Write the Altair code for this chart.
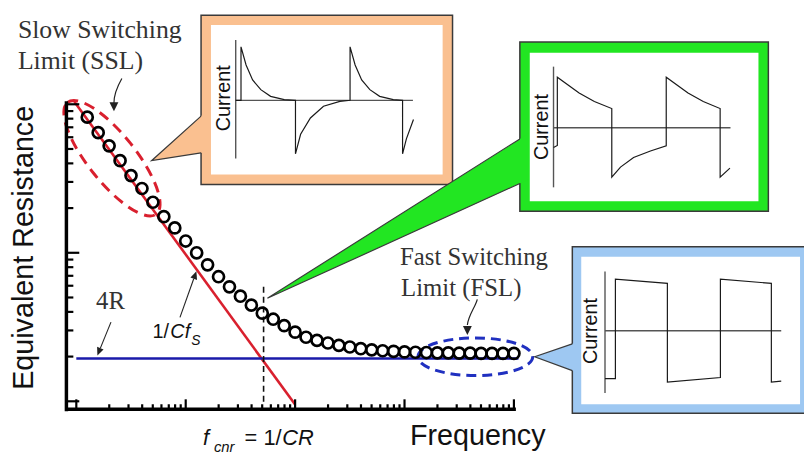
import altair as alt
import pandas as pd

SANS = "Liberation Sans"
SERIF = "Liberation Serif"

# ---------------- main plot data ----------------
freq = [1.259, 1.585, 1.995, 2.512, 3.162, 3.981, 5.012, 6.31, 7.943, 10.0,
        12.59, 15.85, 19.95, 25.12, 31.62, 39.81, 50.12, 63.1, 79.43, 100.0,
        125.9, 158.5, 199.5, 251.2, 316.2, 398.1, 501.2, 631.0, 794.3, 1000.0,
        1259.0, 1585.0, 1995.0, 2512.0, 3162.0, 3981.0, 5012.0, 6310.0, 7943.0, 10000.0]
r_eq = [81.9, 64.4, 52.5, 41.7, 33.1, 27.1, 21.9, 17.5, 14.7, 12.0,
        10.0, 8.3, 6.9, 5.9, 5.1, 4.44, 3.92, 3.57, 3.23, 2.92,
        2.70, 2.57, 2.47, 2.38, 2.32, 2.26, 2.22, 2.19, 2.17, 2.15,
        2.14, 2.13, 2.12, 2.12, 2.11, 2.11, 2.10, 2.10, 2.10, 2.10]
ssl_f = [0.96, 100.0]          # 1/(C f_S) asymptote
ssl_r = [104.0, 0.95]
fsl_f = [1.0, 11000.0]         # 4R asymptote
fsl_r = [1.94, 1.94]
f_cnr = [51.5]
cnr_r = [5.9]
cnr_r2 = [0.94]
x_major = [1, 10, 100, 1000, 10000]
x_minor = [k * 10 ** d for d in range(4) for k in range(2, 10)]
y_major = [1, 10, 100]
y_minor = [k * 10 ** d for d in range(2) for k in range(2, 10)]

# ---------------- inset waveforms (time in half periods, current normalised) ----------------
ssl_t = [0.0, 0.097, 0.097, 0.19, 0.31, 0.46, 0.64, 0.89, 1.096, 1.096, 1.19, 1.37, 1.61, 1.91, 2.097,
         2.097, 2.19, 2.31, 2.46, 2.64, 2.89, 3.06, 3.06, 3.13, 3.26]
ssl_i = [0.0, 0.0, 1.0, 0.66, 0.38, 0.2, 0.074, 0.013, 0.0, -1.0, -0.635, -0.33, -0.11, -0.02, 0.0,
         1.0, 0.66, 0.38, 0.2, 0.074, 0.013, 0.0, -1.0, -0.72, -0.36]
mid_t = [0.0, 0.07, 0.07, 0.47, 0.75, 1.07, 1.07, 1.23, 1.47, 1.78, 2.07, 2.07, 2.47, 2.75, 3.06, 3.06, 3.24]
mid_i = [-0.39, -0.35, 1.0, 0.69, 0.52, 0.38, -0.98, -0.78, -0.59, -0.46, -0.36, 1.0, 0.69, 0.52, 0.38, -0.98, -0.8]
fsl_t = [0.0, 0.2, 0.2, 1.2, 1.2, 2.22, 2.22, 3.2, 3.2, 3.39]
fsl_i = [-0.93, -0.93, 1.0, 0.92, -1.0, -0.91, 1.0, 0.92, -1.0, -0.98]

dummy = pd.DataFrame({"d": [0]})

XS = alt.Scale(type="log", domain=[1, 10000], range=[69, 511], nice=False)
YS = alt.Scale(type="log", domain=[1, 100], range=[395, 95], nice=False)

layers = []


def shape(path, fill=None, stroke=None, sw=1.0, dash=None, x=0, y=0, angle=0):
    kw = dict(shape=path, size=4, opacity=1, strokeWidth=sw, angle=angle)
    if fill is not None:
        kw["filled"] = True
        kw["fill"] = fill
        kw["stroke"] = stroke if stroke is not None else fill
        if stroke is None:
            kw["strokeWidth"] = 0
    else:
        kw["filled"] = False
        kw["stroke"] = stroke
    if dash is not None:
        kw["strokeDash"] = dash
    return alt.Chart(dummy).mark_point(**kw).encode(x=alt.value(x), y=alt.value(y))


def label(text, x, y, size, font=SANS, style="normal", color="#111111", angle=0,
          align="left", baseline="alphabetic"):
    return alt.Chart(dummy).mark_text(
        text=text, font=font, fontSize=size, fontStyle=style, color=color,
        angle=angle, align=align, baseline=baseline
    ).encode(x=alt.value(x), y=alt.value(y))


def rect(x, y, x2, y2, fill, stroke=None, sw=0):
    kw = dict(fill=fill, opacity=1)
    if stroke is not None:
        kw["stroke"] = stroke
        kw["strokeWidth"] = sw
    return alt.Chart(dummy).mark_rect(**kw).encode(
        x=alt.value(x), x2=alt.value(x2), y=alt.value(y), y2=alt.value(y2))


# dashed ellipses
layers.append(shape("M -72 0 A 72 24 0 1 1 72 0 A 72 24 0 1 1 -72 0 Z", stroke="#D9202E",
                    sw=3, dash=[11, 7], x=105, y=149.5, angle=51.5))
layers.append(shape("M -58 0 A 58 19 0 1 1 58 0 A 58 19 0 1 1 -58 0 Z", stroke="#2030C0",
                    sw=3, dash=[10, 6], x=472, y=350))

# asymptotes
df_ssl = pd.DataFrame({"f": ssl_f, "r": ssl_r})
df_fsl = pd.DataFrame({"f": fsl_f, "r": fsl_r})
layers.append(alt.Chart(df_ssl).mark_line(color="#D9202E", strokeWidth=2.6).encode(
    x=alt.X("f:Q", scale=XS, axis=None), y=alt.Y("r:Q", scale=YS, axis=None)))
layers.append(alt.Chart(df_fsl).mark_line(color="#1A1AAA", strokeWidth=2.6).encode(
    x=alt.X("f:Q", scale=XS, axis=None), y=alt.Y("r:Q", scale=YS, axis=None)))
df_cnr = pd.DataFrame({"f": f_cnr, "r": cnr_r, "r2": cnr_r2})
layers.append(alt.Chart(df_cnr).mark_rule(color="#111111", strokeWidth=1.6, strokeDash=[6, 4]).encode(
    x=alt.X("f:Q", scale=XS, axis=None), y=alt.Y("r:Q", scale=YS, axis=None), y2="r2:Q"))

# data circles
df_main = pd.DataFrame({"f": freq, "r": r_eq})
layers.append(alt.Chart(df_main).mark_point(shape="circle", filled=False, size=124, stroke="#000000",
                                             strokeWidth=2.7, opacity=1).encode(
    x=alt.X("f:Q", scale=XS, axis=None), y=alt.Y("r:Q", scale=YS, axis=None)))

# axes
layers.append(alt.Chart(dummy).mark_rule(color="#000000", strokeWidth=3.5).encode(
    x=alt.value(58), x2=alt.value(513), y=alt.value(403)))
layers.append(alt.Chart(dummy).mark_rule(color="#000000", strokeWidth=3.5).encode(
    x=alt.value(59), y=alt.value(92), y2=alt.value(405)))
for vals, ln in ((x_major, 10), (x_minor, 5)):
    layers.append(alt.Chart(pd.DataFrame({"f": vals})).mark_rule(color="#000000", strokeWidth=2.2).encode(
        x=alt.X("f:Q", scale=XS, axis=None), y=alt.value(403), y2=alt.value(403 - ln)))
for vals, ln in ((y_major, 13), (y_minor, 7)):
    layers.append(alt.Chart(pd.DataFrame({"r": vals})).mark_rule(color="#000000", strokeWidth=2.2).encode(
        y=alt.Y("r:Q", scale=YS, axis=None), x=alt.value(59), x2=alt.value(59 + ln)))

# arrows
layers.append(shape("M 115 69 C 111 76 107 84 107 94", stroke="#222222", sw=1.2))
layers.append(shape("M 107 102 L 102.5 93 L 111.5 93 Z", fill="#222222"))
layers.append(shape("M 474 292 C 472 300 465 308 464 318", stroke="#222222", sw=1.2))
layers.append(shape("M 464 328 L 459.5 319 L 468.5 319 Z", fill="#222222"))
layers.append(shape("M 104 315 L 93.3 341.3", stroke="#222222", sw=1.1))
layers.append(shape("M 90.3 348.7 L 96.5 342.6 L 90 340 Z", fill="#222222"))
layers.append(shape("M 173.7 310.3 L 187.6 271.2", stroke="#222222", sw=1.1))
layers.append(shape("M 190.3 263.7 L 190.9 272.4 L 184.3 270 Z", fill="#222222"))

# text annotations
layers.append(label("Slow Switching", 10, 28, 26, font=SERIF, color="#333333"))
layers.append(label("Limit (SSL)", 10, 59, 26, font=SERIF, color="#333333"))
layers.append(label("Fast Switching", 396, 257, 25, font=SERIF, color="#333333"))
layers.append(label("Limit (FSL)", 397, 289, 25, font=SERIF, color="#333333"))
layers.append(label("4R", 89, 302, 25, font=SERIF, color="#333333"))
layers.append(label("1/", 146, 331, 20))
layers.append(label("Cf", 164, 331, 20, style="italic"))
layers.append(label("S", 185, 338, 14, style="italic"))
layers.append(label("f", 197, 439, 22, style="italic"))
layers.append(label("cnr", 208, 446, 15, style="italic"))
layers.append(label("= 1/", 239, 439, 22))
layers.append(label("CR", 277, 439, 22, style="italic"))
layers.append(label("Frequency", 406, 439, 29))
layers.append(label("Equivalent Resistance", 25, 240, 29, angle=270, align="center"))


def inset(t, i, xr, yr, tmax, ilim, box, inner, color, ptr_fill, ptr_line, lab_x, lab_y):
    out = []
    out.append(rect(*box, fill=color, stroke="#3a3a3a", sw=1.5))
    out.append(shape(ptr_fill, fill=color))
    out.append(shape(ptr_line, stroke="#3a3a3a", sw=1.2))
    out.append(rect(*inner, fill="#ffffff"))
    xs = alt.Scale(domain=[0, tmax], range=xr, nice=False, zero=False)
    ys = alt.Scale(domain=[-1, 1], range=yr, nice=False, zero=False)
    ax = pd.DataFrame({"t": [0, 0], "t2": [0, tmax], "i": [ilim[0], 0], "i2": [ilim[1], 0]})
    out.append(alt.Chart(ax).mark_rule(color="#555555", strokeWidth=1.4).encode(
        x=alt.X("t:Q", scale=xs, axis=None), x2="t2:Q",
        y=alt.Y("i:Q", scale=ys, axis=None), y2="i2:Q"))
    df = pd.DataFrame({"t": t, "i": i, "k": list(range(len(t)))})
    out.append(alt.Chart(df).mark_line(color="#1a1a1a", strokeWidth=1.2).encode(
        x=alt.X("t:Q", scale=xs, axis=None), y=alt.Y("i:Q", scale=ys, axis=None), order="k:Q"))
    out.append(label("Current", lab_x, lab_y, 20, angle=270, align="center"))
    return out


layers += inset(ssl_t, ssl_i, [230, 409], [145, 37], 3.25, (1.13, -1.09),
                (195, 5, 449, 176), (205, 15, 439, 166), "#FAC090",
                "M 145 152 L 205 98 L 205 142.4 Z", "M 195 107 L 145 152 L 195 144", 224, 89)
layers += inset(mid_t, mid_i, [551, 729.75], [169.7, 67.7], 3.25, (1.21, -1.18),
                (517, 32, 768, 203), (527, 43, 758, 193), "#22E622",
                "M 262 291 L 527 123.7 L 527 170.4 Z", "M 517 130 L 262 291 L 517 175", 545, 118)
layers += inset(fsl_t, fsl_i, [603, 781], [375.7, 271.7], 3.39, (1.15, -1.21),
                (570, 239, 812, 407), (579, 249, 800, 398), "#9EC8F2",
                "M 532 350 L 579 333.9 L 579 367.3 Z", "M 570 337 L 532 350 L 570 364", 595, 324)

chart = alt.layer(*layers).resolve_scale(x="independent", y="independent").properties(
    width=804, height=447, autosize=alt.AutoSizeParams(type="none"), padding=0,
    background="#ffffff"
).configure_view(stroke=None)

chart.save("out.html", embed_options={"renderer": "svg", "actions": False})
